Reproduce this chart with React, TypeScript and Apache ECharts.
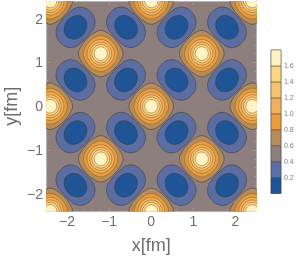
import React, { useEffect, useRef } from "react";
import * as echarts from "echarts";

const xRange = [-2.5, 2.5];
const yRange = [-2.4, 2.4];
const majorTicks = [-2, -1, 0, 1, 2];
const minorTicks = [-2.4, -2.2, -1.8, -1.6, -1.4, -1.2, -0.8, -0.6, -0.4, -0.2, 0.2, 0.4, 0.6, 0.8, 1.2, 1.4, 1.6, 1.8, 2.2, 2.4];

const peakCenters = [
  [-2.4, 2.4], [0, 2.4], [2.4, 2.4],
  [-1.2, 1.2], [1.2, 1.2],
  [-2.4, 0], [0, 0], [2.4, 0],
  [-1.2, -1.2], [1.2, -1.2],
  [-2.4, -2.4], [0, -2.4], [2.4, -2.4],
];
// x, y, tilt (1: long side runs "/", -1: long side runs "\")
const blobCenters = [
  [-1.8, 1.8, 1], [-0.6, 1.8, -1], [0.6, 1.8, 1], [1.8, 1.8, -1],
  [-1.8, 0.6, -1], [-0.6, 0.6, 1], [0.6, 0.6, -1], [1.8, 0.6, 1],
  [-1.8, -0.6, 1], [-0.6, -0.6, -1], [0.6, -0.6, 1], [1.8, -0.6, -1],
  [-1.8, -1.8, -1], [-0.6, -1.8, 1], [0.6, -1.8, -1], [1.8, -1.8, 1],
];

// contour radius at 0, 22.5 and 45 degrees from the axis
const peakLevels = [0.6, 0.8, 1.0, 1.2, 1.4, 1.6];
const peakRadii = [
  [0.53, 0.49, 0.47],
  [0.41, 0.395, 0.385],
  [0.325, 0.32, 0.315],
  [0.262, 0.26, 0.258],
  [0.21, 0.208, 0.206],
  [0.155, 0.155, 0.155],
];
// contour radius at 0, 22.5, 45, 67.5 and 90 degrees from the long side
const blobLevels = [0.4, 0.2];
const blobRadii = [
  [0.5, 0.49, 0.44, 0.37, 0.35],
  [0.295, 0.285, 0.265, 0.25, 0.245],
];

const bandStarts = [0, 0.2, 0.4, 0.6, 0.8, 1.0, 1.2, 1.4, 1.6];
const bandColors = ["#1f5596", "#5b6ea3", "#8c7f7d", "#b58c5c", "#e89c3c", "#efb060", "#f5c370", "#fbd684", "#fff3c6"];
const bandStep = 0.2;

const lineColor = "rgba(70,55,45,0.8)";
const innerLineColor = "rgba(140,90,30,0.75)";
const axisGrey = "#b4b4b4";
const textGrey = "#6e6e6e";

function colorFor(level: number) {
  const i = bandStarts.findIndex((s) => Math.abs(s - level) < 1e-6);
  return bandColors[i];
}

function peakOutline(radii: number[]) {
  const pts: number[][] = [];
  for (let k = 0; k < 16; k++) {
    const m = k % 4;
    const idx = m <= 2 ? m : 1;
    const a = (k * Math.PI) / 8;
    pts.push([radii[idx] * Math.cos(a), radii[idx] * Math.sin(a)]);
  }
  return pts;
}

function blobOutline(radii: number[], tilt: number) {
  const pts: number[][] = [];
  const base = tilt > 0 ? Math.PI / 4 : -Math.PI / 4;
  for (let k = 0; k < 16; k++) {
    const m = k % 8;
    const idx = m <= 4 ? m : 8 - m;
    const a = base + (k * Math.PI) / 8;
    pts.push([radii[idx] * Math.cos(a), radii[idx] * Math.sin(a)]);
  }
  return pts;
}

type Ring = { c: number[]; outline: number[][]; fill: string; stroke: string };
const rings: Ring[] = [];
blobLevels.forEach((lv, i) => {
  const fill = colorFor(lv - bandStep);
  blobCenters.forEach((c) => rings.push({ c, outline: blobOutline(blobRadii[i], c[2]), fill, stroke: lineColor }));
});
peakLevels.forEach((lv, i) => {
  const fill = colorFor(lv);
  const stroke = i === 0 ? lineColor : innerLineColor;
  peakCenters.forEach((c) => rings.push({ c, outline: peakOutline(peakRadii[i]), fill, stroke }));
});

const fmt = (v: number) => String(v).replace("-", "\u2212");

function frameAxis(position: string, ticks: number[], range: number[], gridIndex: number, len: number, main: boolean, extra: any = {}) {
  return {
    type: "value",
    gridIndex,
    position,
    min: range[0],
    max: range[1],
    splitLine: { show: false },
    axisLine: { show: main, onZero: false, lineStyle: { color: axisGrey, width: 1 } },
    axisTick: { show: true, inside: true, length: len, customValues: ticks, lineStyle: { color: "#9a9a9a", width: 1 } },
    axisLabel: { show: false },
    ...extra,
  };
}

const labelStyle = (margin: number) => ({
  show: true,
  customValues: majorTicks,
  formatter: (v: number) => fmt(v),
  color: textGrey,
  fontFamily: "Liberation Sans",
  fontSize: 14,
  margin,
});

export default function App() {
  const ref = useRef<HTMLDivElement>(null);
  useEffect(() => {
    document.body.style.margin = "0";
    const chart = echarts.init(ref.current!, null, { renderer: "svg" });
    const nameText = { color: textGrey, fontFamily: "Liberation Sans", fontSize: 18 };
    chart.setOption({
      animation: false,
      backgroundColor: "#ffffff",
      grid: [
        { left: 46, right: 43.5, top: 1, bottom: 45.5, show: true, backgroundColor: bandColors[2], borderWidth: 0, outerBoundsMode: "none" },
        { left: 46, right: 43.5, top: 1, bottom: 45.5, outerBoundsMode: "none" },
        { left: 271, width: 10, top: 50, height: 143.5, show: true, borderColor: "#a8a8a8", borderWidth: 1, outerBoundsMode: "none" },
      ],
      xAxis: [
        frameAxis("bottom", majorTicks, xRange, 0, 4, true, {
          axisLabel: labelStyle(2.5),
          name: "x[fm]",
          nameLocation: "middle",
          nameGap: 24,
          nameMoveOverlap: false,
          nameTextStyle: nameText,
        }),
        frameAxis("top", majorTicks, xRange, 0, 4, true),
        frameAxis("bottom", minorTicks, xRange, 1, 2, false),
        frameAxis("top", minorTicks, xRange, 1, 2, false),
        { type: "value", gridIndex: 2, min: 0, max: 1, show: false },
      ],
      yAxis: [
        frameAxis("left", majorTicks, yRange, 0, 4, true, {
          axisLabel: labelStyle(3),
          name: "y[fm]",
          nameLocation: "middle",
          nameGap: 26,
          nameRotate: 90,
          nameMoveOverlap: false,
          nameTextStyle: nameText,
        }),
        frameAxis("right", majorTicks, yRange, 0, 4, true),
        frameAxis("left", minorTicks, yRange, 1, 2, false),
        frameAxis("right", minorTicks, yRange, 1, 2, false),
        {
          type: "value",
          gridIndex: 2,
          position: "right",
          min: 0,
          max: 1.8,
          interval: 0.2,
          splitLine: { show: false },
          axisLine: { show: false },
          axisTick: { show: true, length: 2, lineStyle: { color: "#999" } },
          axisLabel: {
            color: "#7a7a7a",
            fontFamily: "Liberation Sans",
            fontSize: 7,
            margin: 3,
            formatter: (v: number) => (v < 0.1 || v > 1.7 ? "" : v.toFixed(1)),
          },
        },
      ],
      series: [
        {
          type: "custom",
          coordinateSystem: "cartesian2d",
          xAxisIndex: 0,
          yAxisIndex: 0,
          clip: true,
          silent: true,
          data: rings.map((r) => [r.c[0], r.c[1]]),
          encode: { x: 0, y: 1 },
          renderItem: (params: any, api: any) => {
            const r = rings[params.dataIndex];
            return {
              type: "polygon",
              shape: { points: r.outline.map((o) => api.coord([r.c[0] + o[0], r.c[1] + o[1]])), smooth: 0.4 },
              style: { fill: r.fill, stroke: r.stroke, lineWidth: 0.7 },
            };
          },
        },
        {
          type: "custom",
          coordinateSystem: "cartesian2d",
          xAxisIndex: 4,
          yAxisIndex: 4,
          silent: true,
          data: bandStarts.map((s) => [0, s]),
          encode: { x: 0, y: 1 },
          renderItem: (params: any, api: any) => {
            const s = bandStarts[params.dataIndex];
            const a = api.coord([0, s + bandStep]);
            const b = api.coord([1, s]);
            return {
              type: "rect",
              shape: { x: a[0], y: a[1], width: b[0] - a[0], height: b[1] - a[1] },
              style: { fill: bandColors[params.dataIndex], stroke: lineColor, lineWidth: 0.6 },
            };
          },
        },
      ],
    });
    return () => chart.dispose();
  }, []);
  return <div ref={ref} style={{ width: 300, height: 257, filter: "blur(0.4px)" }} />;
}
